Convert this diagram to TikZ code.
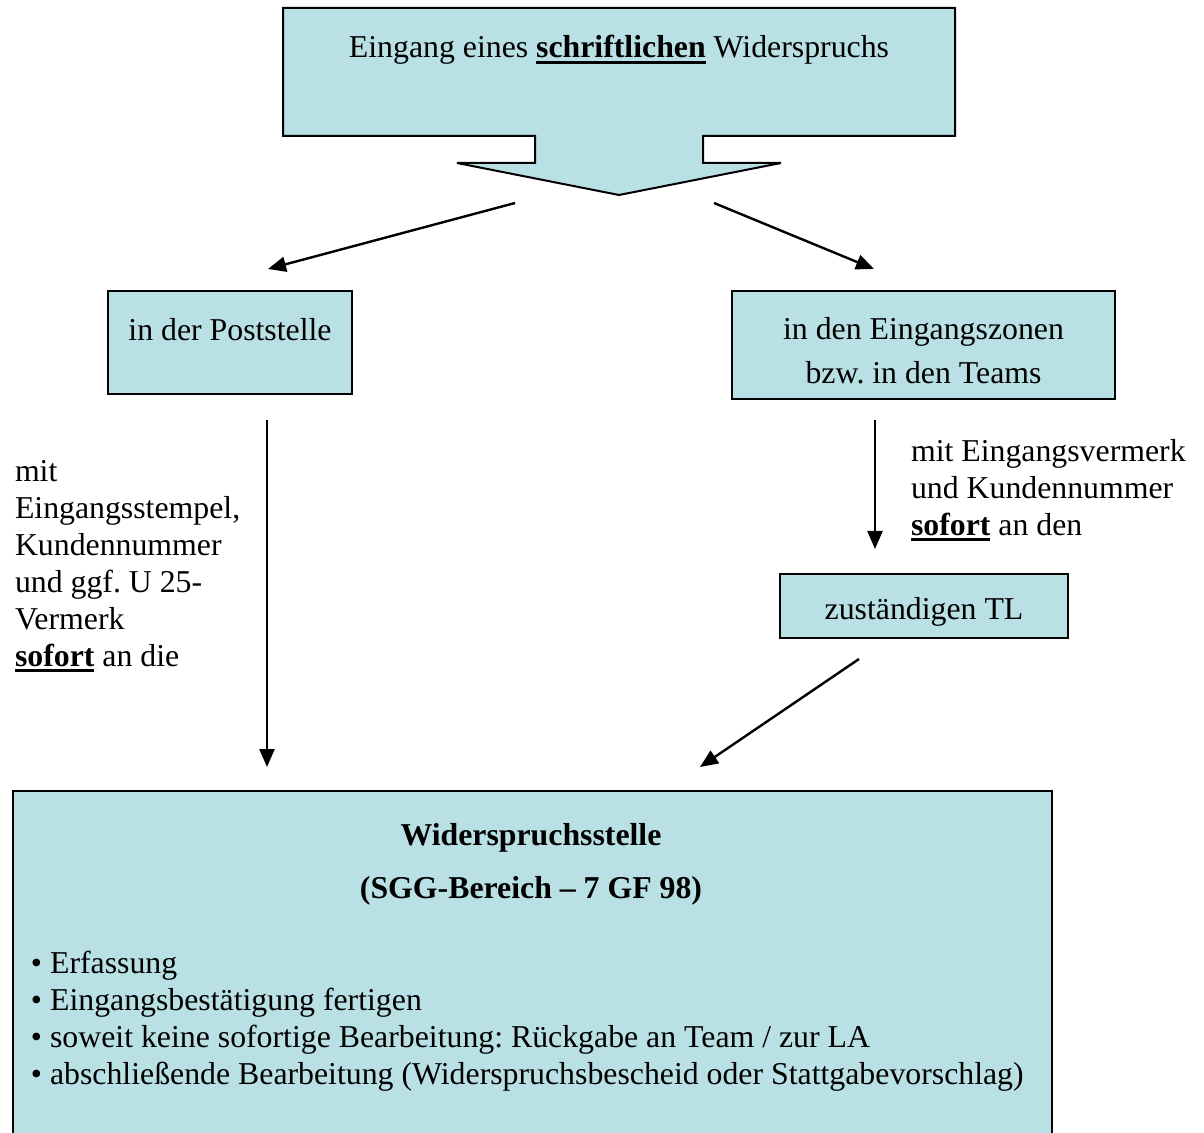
\documentclass[tikz,border=0pt]{standalone}
\usepackage{fontspec}
\setmainfont{Liberation Serif}
\usetikzlibrary{arrows.meta}
\definecolor{kasten}{RGB}{185,224,228}
\newcommand{\ulbf}[1]{\setbox0\hbox{\textbf{#1}}\rlap{\rule[-3pt]{\wd0}{1.4pt}}\box0\relax}
\frenchspacing
\begin{document}
\begin{tikzpicture}[x=0.5pt, y=-0.5pt, line width=1pt,
pfeil/.style = {-{Triangle[length=9pt,width=7.5pt]}, line width=1.2pt},
box/.style = {draw, fill=kasten, inner sep=0pt, align=center, font=\fontsize{15.9}{22}\selectfont},
txt/.style = {inner sep=0pt, align=left, font=\fontsize{15.9}{18.5}\selectfont}]
    \useasboundingbox (0,0) rectangle (1204,1133);

    \draw[fill=kasten] (283,8) -- (955,8) -- (955,136) -- (703,136) -- (703,163) -- (781,163)
        -- (619,195) -- (457,163) -- (535,163) -- (535,136) -- (283,136) -- cycle;
    \node[txt, anchor=base] (eingang) at (619,58) {Eingang eines \ulbf{schriftlichen} Widerspruchs};

    \node[box, anchor=north west, minimum width=122pt, text height=25pt, text depth=26.5pt] (post) at (107,290) {in der Poststelle};
    \node[box, anchor=north west, minimum width=191.5pt, minimum height=54pt] (zonen) at (731,290) {\rule{0pt}{17pt}in den Eingangszonen\\bzw. in den Teams};
    \node[box, anchor=north west, minimum width=144pt, text height=22.75pt, text depth=9.25pt] (tl) at (779,573) {zuständigen TL};
    \node[box, anchor=north west, minimum width=519.5pt, minimum height=180pt] (stelle) at (12,790) {};

    \node[txt, anchor=north west] (links) at (14,459) {mit\\Eingangsstempel,\\Kundennummer\\und ggf. U 25-\\Vermerk\\\ulbf{sofort} an die};
    \node[txt, anchor=north west] (rechts) at (910,438) {mit Eingangsvermerk\\und Kundennummer\\\ulbf{sofort} an den};

    \node[txt, align=center, anchor=north, font=\bfseries\fontsize{15.9}{26.5}\selectfont] (titel) at (531,822) {Widerspruchsstelle\\(SGG-Bereich – 7 GF 98)};
    \node[txt, anchor=north west] (liste) at (30,950) {• Erfassung\\• Eingangsbestätigung fertigen\\• soweit keine sofortige Bearbeitung: Rückgabe an Team / zur LA\\• abschließende Bearbeitung (Widerspruchsbescheid oder Stattgabevorschlag)};

    \coordinate (a1) at (515,203);
    \coordinate (a2) at (268,269);
    \coordinate (b1) at (714,203);
    \coordinate (b2) at (874,269);
    \coordinate (c1) at (267,420);
    \coordinate (c2) at (267,767);
    \coordinate (d1) at (875,420);
    \coordinate (d2) at (875,549);
    \coordinate (e1) at (859,659);
    \coordinate (e2) at (700,767);

    \draw[pfeil] (a1) -- (a2);
    \draw[pfeil] (b1) -- (b2);
    \draw[pfeil] (c1) -- (c2);
    \draw[pfeil] (d1) -- (d2);
    \draw[pfeil] (e1) -- (e2);
\end{tikzpicture}
\end{document}
